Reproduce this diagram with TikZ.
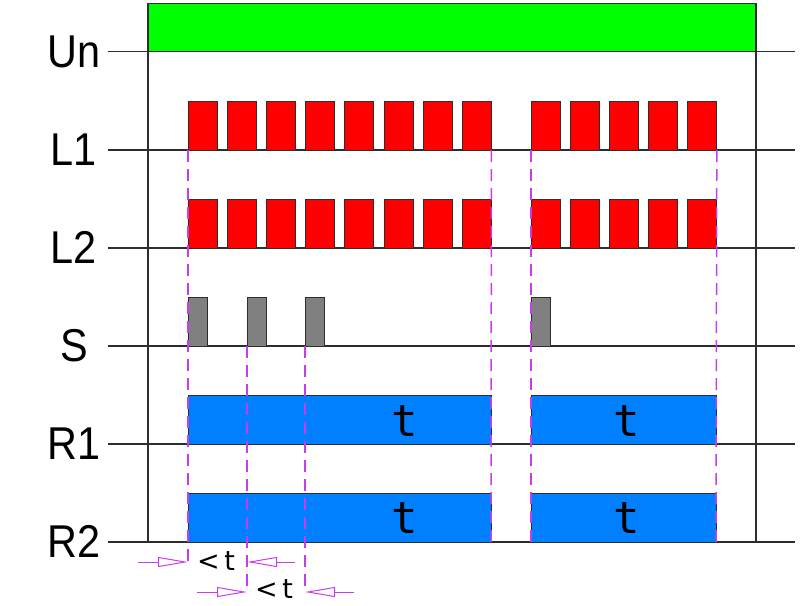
\documentclass[tikz,border=0pt]{standalone}
\usepackage{fontspec}
\setmainfont{Liberation Sans}
\newfontfamily\lblfont[FakeStretch=0.9]{Liberation Sans}
\newfontfamily\tfont{DejaVu Sans Mono}
\newfontfamily\ltfont{DejaVu Sans}
\usepackage{tikz}
\usetikzlibrary{positioning, arrows.meta}

\definecolor{ungreen}{RGB}{0,255,0}
\definecolor{pulsered}{RGB}{255,0,0}
\definecolor{sgray}{RGB}{128,128,128}
\definecolor{relayblue}{RGB}{0,128,255}
\definecolor{guidemag}{RGB}{200,60,240}
\definecolor{axis}{RGB}{45,45,45}

\begin{document}
\begin{tikzpicture}[x=1pt,y=-1pt,node distance=98pt,on grid]
  \tikzstyle{every node}=[inner sep=0pt, outer sep=0pt]
  \tikzstyle{sig}=[font={\lblfont\fontsize{46}{46}\selectfont}]
  \tikzstyle{tlbl}=[font={\tfont\fontsize{44}{44}\selectfont}]
  \tikzstyle{ltlbl}=[font={\ltfont\fontsize{27}{27}\selectfont}]
  \tikzstyle{base}=[draw=axis, line width=1.5pt]
  \tikzstyle{pulse}=[draw=axis, line width=1pt, fill=pulsered, minimum width=29pt, minimum height=49pt, node distance=39.2pt]
  \tikzstyle{spulse}=[draw=axis, line width=1pt, fill=sgray, minimum width=19pt, minimum height=49pt]
  \tikzstyle{relay}=[draw=axis, line width=1pt, fill=relayblue, minimum height=49pt, anchor=south west]
  \tikzstyle{guide}=[draw=guidemag, line width=1.5pt, dash pattern=on 12pt off 7pt]
  \tikzstyle{dim}=[draw=guidemag, line width=1pt, -{Triangle[open, length=30pt, width=10pt]}]

    \useasboundingbox (0,0) rectangle (800,605);

    % supply bar
    \node[draw=axis, line width=1pt, fill=ungreen, minimum width=608pt, minimum height=48.5pt, anchor=north west] (supply) at (148,3) {};

    % signal names
    \node[sig] (un)              at (74,51.5) {Un};
    \node[sig] (l1) [below of=un] {L1};
    \node[sig] (l2) [below of=l1] {L2};
    \node[sig] (s)  [below of=l2] {S};
    \node[sig] (r1) [below of=s]  {R1};
    \node[sig] (r2) [below of=r1] {R2};

    % time axes
    \foreach \y in {51.5,150,248,346,444,542}
      \draw[base] (108,\y) -- (795,\y);
    \draw[base] (148,3) -- (148,542);
    \draw[base] (756,3) -- (756,542);

    % L1 and L2 pulses
    \node[pulse] (a1) at (202.5,125.5) {};
    \node[pulse] (b1) at (202.5,223.5) {};
    \node[pulse] (c1) at (545.5,125.5) {};
    \node[pulse] (d1) at (545.5,223.5) {};
    \foreach \i [count=\j from 2] in {1,...,7} {
      \node[pulse] (a\j) [right of=a\i] {};
      \node[pulse] (b\j) [right of=b\i] {};
    }
    \foreach \i [count=\j from 2] in {1,...,4} {
      \node[pulse] (c\j) [right of=c\i] {};
      \node[pulse] (d\j) [right of=d\i] {};
    }

    % S pulses
    \node[spulse] (s1) at (197.5,321.5) {};
    \node[spulse] (s2) at (256.5,321.5) {};
    \node[spulse] (s3) at (314.5,321.5) {};
    \node[spulse] (s4) at (540.5,321.5) {};

    % relays
    \node[relay, minimum width=303pt] (r1a) at (188,444) {};
    \node[relay, minimum width=185pt] (r1b) at (531,444) {};
    \node[relay, minimum width=303pt] (r2a) at (188,542) {};
    \node[relay, minimum width=185pt] (r2b) at (531,542) {};
    \node[tlbl] (t1a) at (405,421) {t};
    \node[tlbl] (t1b) at (627,421) {t};
    \node[tlbl] (t2a) at (405,518) {t};
    \node[tlbl] (t2b) at (627,518) {t};

    % timing marks
    \coordinate (w1) at (138,562);
    \coordinate (w2) at (295,562);
    \coordinate (w3) at (197,592);
    \coordinate (w4) at (354,592);
    \draw[guide] (a1.south west) -- (a1.south west |- w1);
    \draw[guide] (s2.south west) -- (s2.south west |- w3);
    \draw[guide] (s3.south west) -- (s3.south west |- w3);
    \draw[guide] (a8.south east) -- (r2a.south east);
    \draw[guide] (c1.south west) -- (r2b.south west);
    \draw[guide] (c5.south east) -- (r2b.south east);
    \draw[dim] (w1) -- (w1 -| a1.south west);
    \draw[dim] (w2) -- (w2 -| s2.south west);
    \draw[dim] (w3) -- (w3 -| s2.south west);
    \draw[dim] (w4) -- (w4 -| s3.south west);
    \node[ltlbl] (lt1) at (216,561) {<\,t};
    \node[ltlbl] (lt2) at (274,589) {<\,t};

\end{tikzpicture}
\end{document}
